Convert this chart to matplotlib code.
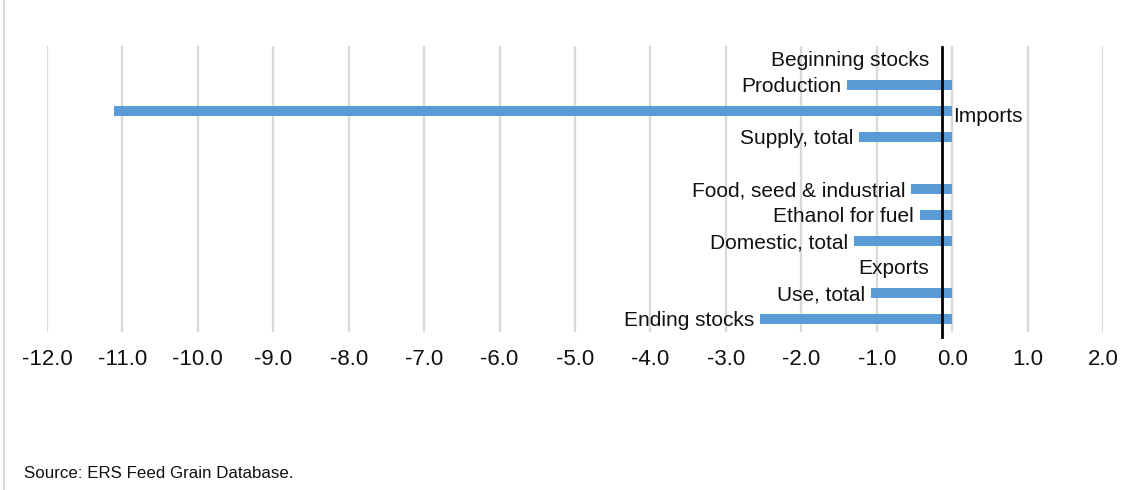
import matplotlib
matplotlib.use("Agg")
import matplotlib.pyplot as plt
import matplotlib.lines as mlines

plt.rcParams['font.family'] = ['Liberation Sans', 'DejaVu Sans']

# Percent change by balance-sheet item (blank row separates supply and use)
items = ["Beginning stocks", "Production", "Imports", "Supply, total", "",
         "Food, seed & industrial", "Ethanol for fuel", "Domestic, total",
         "Exports", "Use, total", "Ending stocks"]
pct_change = [0.0, -1.39, -11.11, -1.24, None,
              -0.55, -0.43, -1.30, 0.0, -1.08, -2.55]
x_ticks = list(range(-12, 3))
x_tick_labels = [f"{t:.1f}" for t in x_ticks]

bar_color = "#5b9bd5"
grid_color = "#d9d9d9"

fig = plt.figure(figsize=(11.36, 4.9), dpi=100)
ax = fig.add_axes([47 / 1136, 1 - 332 / 490, 1056 / 1136, 286 / 490])

rows = list(range(len(items)))
for y, name, v in zip(rows, items, pct_change):
    if v is None:
        continue
    ax.barh(y, v, height=0.35, color=bar_color, zorder=2)
    if name == "Imports":
        ax.annotate(name, xy=(0, y), xytext=(1, -4), textcoords="offset points",
                    ha="left", va="center", fontsize=15, color="#111111")
    else:
        ax.annotate(name, xy=(min(v, -0.23), y), xytext=(-4, -1.2),
                    textcoords="offset points", ha="right", va="center",
                    fontsize=15, color="#111111")

ax.set_xlim(-12, 2)
ax.set_ylim(len(items) - 0.5, -0.5)
ax.set_xticks(x_ticks)
ax.set_xticklabels(x_tick_labels)
ax.set_yticks([])
ax.tick_params(axis="x", length=0, pad=12.5, labelsize=16, labelcolor="#111111")
ax.grid(axis="x", color=grid_color, linewidth=1.6, zorder=0)
for s in ax.spines.values():
    s.set_visible(False)

# vertical axis line drawn just left of zero
ax.axvline(-0.13, ymin=-0.018, ymax=0.995, color="black", linewidth=2,
           zorder=3, clip_on=False)

# chart frame edge on the left
fig.add_artist(mlines.Line2D([4 / 1136, 4 / 1136], [0, 1],
                             transform=fig.transFigure, color=grid_color,
                             linewidth=1.5))

fig.text(24 / 1136, 1 - 473 / 490, "Source: ERS Feed Grain Database.",
         fontsize=12.2, ha="left", va="center", color="#111111")

fig.savefig("out.png", dpi=100)
